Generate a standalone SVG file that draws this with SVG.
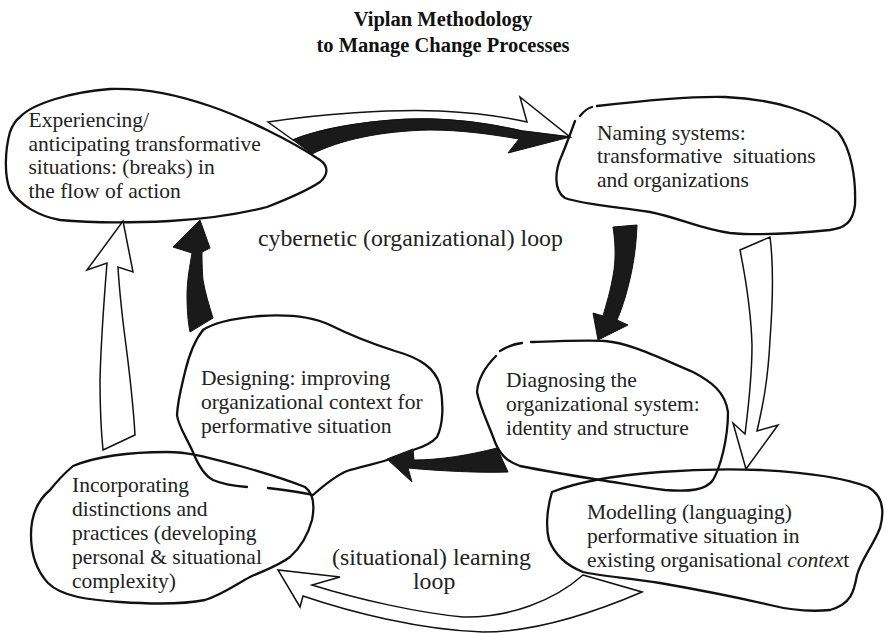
<svg xmlns="http://www.w3.org/2000/svg" width="885" height="633" viewBox="0 0 885 633">
  <style>
    .blob { fill: none; stroke: #111; stroke-width: 2.3; stroke-linecap: round; stroke-linejoin: round; }
    .wa { fill: #fff; stroke: #111; stroke-width: 1.5; stroke-linejoin: miter; }
    .ba { fill: #1a1a1a; stroke: #111; stroke-width: 1; stroke-linejoin: miter; }
    text { font-family: "Liberation Serif", "Times New Roman", serif; fill: #222; }
    .lbl { font-size: 21.5px; }
    .loop { font-size: 23.8px; }
    .title { font-size: 20.5px; font-weight: bold; text-anchor: middle; fill: #111; }
  </style>

  <rect width="885" height="633" fill="#fff"/>

  <!-- Title -->
  <g id="title">
    <text class="title" x="443" y="26">Viplan Methodology</text>
    <text class="title" x="443" y="52">to Manage Change Processes</text>
  </g>

  <!-- Experiencing -->
  <g id="experiencing">
    <path class="blob" d="M20,117 C32,104 70,92 110,89 C150,88 180,96 210,106 C245,118 290,140 320,160 C330,167 327,176 320,182 C305,192 285,200 267,207 C240,214 205,219 170,221 C130,223 90,223 60,220 C38,216 20,205 10,190 C4,175 5,150 10,132 C13,124 16,120 20,117"/>
    <text class="lbl" x="28.5" y="127">Experiencing/</text>
    <text class="lbl" x="28.5" y="151">anticipating transformative</text>
    <text class="lbl" x="28.5" y="174">situations: (breaks) in</text>
    <text class="lbl" x="28.5" y="198">the flow of action</text>
  </g>

  <!-- Naming systems -->
  <g id="naming">
    <path class="blob" d="M597,106 C640,101 690,96 725,97 C775,99 815,112 838,132 C852,150 856,180 855,205 C853,222 845,228 830,230 C800,233 760,236 730,233 C700,229 680,218 650,212 C620,207 585,205 565,198 C553,190 555,170 562,155 C567,143 571,132 575,121"/>
    <path class="blob" d="M580,116 C584,111 588,108 592,107"/>
    <text class="lbl" x="597" y="140">Naming systems:</text>
    <text class="lbl" x="597" y="163" xml:space="preserve">transformative  situations</text>
    <text class="lbl" x="597" y="187">and organizations</text>
  </g>

  <!-- Diagnosing -->
  <g id="diagnosing">
    <path class="blob" d="M531,342 C560,341 585,340 605,341 C630,343 660,358 693,372 C712,382 725,392 728,412 C728,440 720,468 713,480 C706,490 690,492 665,490 C640,487 620,483 600,480 C575,476 545,471 520,466 C505,461 499,452 495,442 C489,425 480,408 477,392 C478,377 486,366 496,356"/>
    <path class="blob" d="M500,351 C506,347 514,344 522,343"/>
    <text class="lbl" x="506" y="387">Diagnosing the</text>
    <text class="lbl" x="506" y="411">organizational system:</text>
    <text class="lbl" x="506" y="435">identity and structure</text>
  </g>

  <!-- Designing -->
  <g id="designing">
    <path class="blob" d="M203,330 C215,322 235,318 260,316 C290,314 315,318 330,325 C350,335 370,343 395,351 C420,358 435,368 440,385 C444,405 443,425 437,437 C430,445 420,448 413,450"/>
    <path class="blob" d="M387,460 C375,464 360,467 347,471 C335,476 322,487 313,495 C300,492 285,490 268,488"/>
    <path class="blob" d="M247,487 C235,486 222,484 213,480 C205,476 198,465 192,450 C185,435 178,425 177,415 C178,398 182,385 185,372 C189,355 195,340 203,330"/>
    <text class="lbl" x="201" y="385">Designing: improving</text>
    <text class="lbl" x="201" y="409">organizational context for</text>
    <text class="lbl" x="201" y="433">performative situation</text>
  </g>

  <!-- Modelling -->
  <g id="modelling">
    <path class="blob" d="M552,492 C580,481 620,475 660,472 C700,469 730,469 760,470 C800,472 840,476 868,487 C882,495 885,510 880,528 C873,546 862,558 857,575 C854,592 851,604 830,610 C810,612 790,610 770,605 C740,598 700,590 660,583 C630,578 600,576 583,572 C565,565 555,555 549,540 C545,525 548,505 552,492 Z"/>
    <text class="lbl" x="587" y="519">Modelling (languaging)</text>
    <text class="lbl" x="587" y="543">performative situation in</text>
    <text class="lbl" x="587" y="567">existing organisational <tspan font-style="italic">contex</tspan>t</text>
  </g>

  <!-- Incorporating -->
  <g id="incorporating">
    <path class="blob" d="M73,466 C95,457 130,452 167,452 C190,452 210,458 240,466 C265,473 290,481 305,487 C313,493 315,505 312,520 C308,535 300,548 290,557 C278,566 265,570 250,577 C235,585 222,595 205,600 C180,605 150,604 120,602 C90,600 62,597 48,583 C36,570 31,555 31,535 C31,515 38,500 50,490 C58,480 66,472 73,466 Z"/>
    <text class="lbl" x="72" y="492">Incorporating</text>
    <text class="lbl" x="72" y="516">distinctions and</text>
    <text class="lbl" x="72" y="540">practices (developing</text>
    <text class="lbl" x="72" y="564">personal &amp; situational</text>
    <text class="lbl" x="72" y="588">complexity)</text>
  </g>

  <!-- Loop labels -->
  <g id="loop-labels">
    <text class="loop" x="258" y="246">cybernetic (organizational) loop</text>
    <text class="loop" x="332" y="565">(situational) learning</text>
    <text class="loop" x="413" y="589">loop</text>
  </g>

  <!-- Connectors -->
  <g id="connectors">
    <!-- situational loop: hollow arrows -->
    <path class="wa" d="M268,122 C320,114 390,109 440,111 C480,113 505,117 527,122 L520,97 L570,137 L522,131 C500,126 470,120 430,119 C380,118 320,128 293,140 Z"/>
    <path class="wa" d="M740,250 L770,237 C773,260 773,300 770,340 C768,380 763,405 757,431 L778,425 L746,469 L733,423 L745,434 C748,410 752,380 752,345 C751,310 746,280 740,250 Z"/>
    <path class="wa" d="M583,575 L642,592 C600,610 540,632 483,632 C420,630 350,612 303,596 L300,607 L278,570 L340,577 L312,585 C360,600 420,613 463,617 C510,618 555,600 583,575 Z"/>
    <path class="wa" d="M103,450 L135,435 C133,400 128,360 124,330 C121,305 119,285 118,267 L133,272 L123,221 L87,270 L107,263 C104,300 101,340 100,380 C100,410 101,430 103,450 Z"/>

    <!-- cybernetic loop: solid arrows -->
    <path class="ba" d="M293,140 C320,128 380,118 430,119 C470,120 500,126 522,131 L570,137 L508,153 L519,139 C490,134 460,130 430,130 C380,131 340,140 312,154 Z"/>
    <path class="ba" d="M613,227 L637,225 C636,250 633,270 625,298 C621,310 619,316 617,320 L628,325 L598,340 L593,313 L603,316 C606,305 611,290 614,270 C616,255 615,240 613,227 Z"/>
    <path class="ba" d="M497,448 C470,455 440,460 414,460 L413,449 L387,459 L412,482 L408,468 C440,471 480,473 508,472 Z"/>
    <path class="ba" d="M190,332 L213,318 C209,305 205,292 203,280 C202,268 202,258 202,252 L210,248 L200,220 L173,247 L192,253 C190,265 187,280 187,295 C187,310 188,322 190,332 Z"/>
  </g>
</svg>
